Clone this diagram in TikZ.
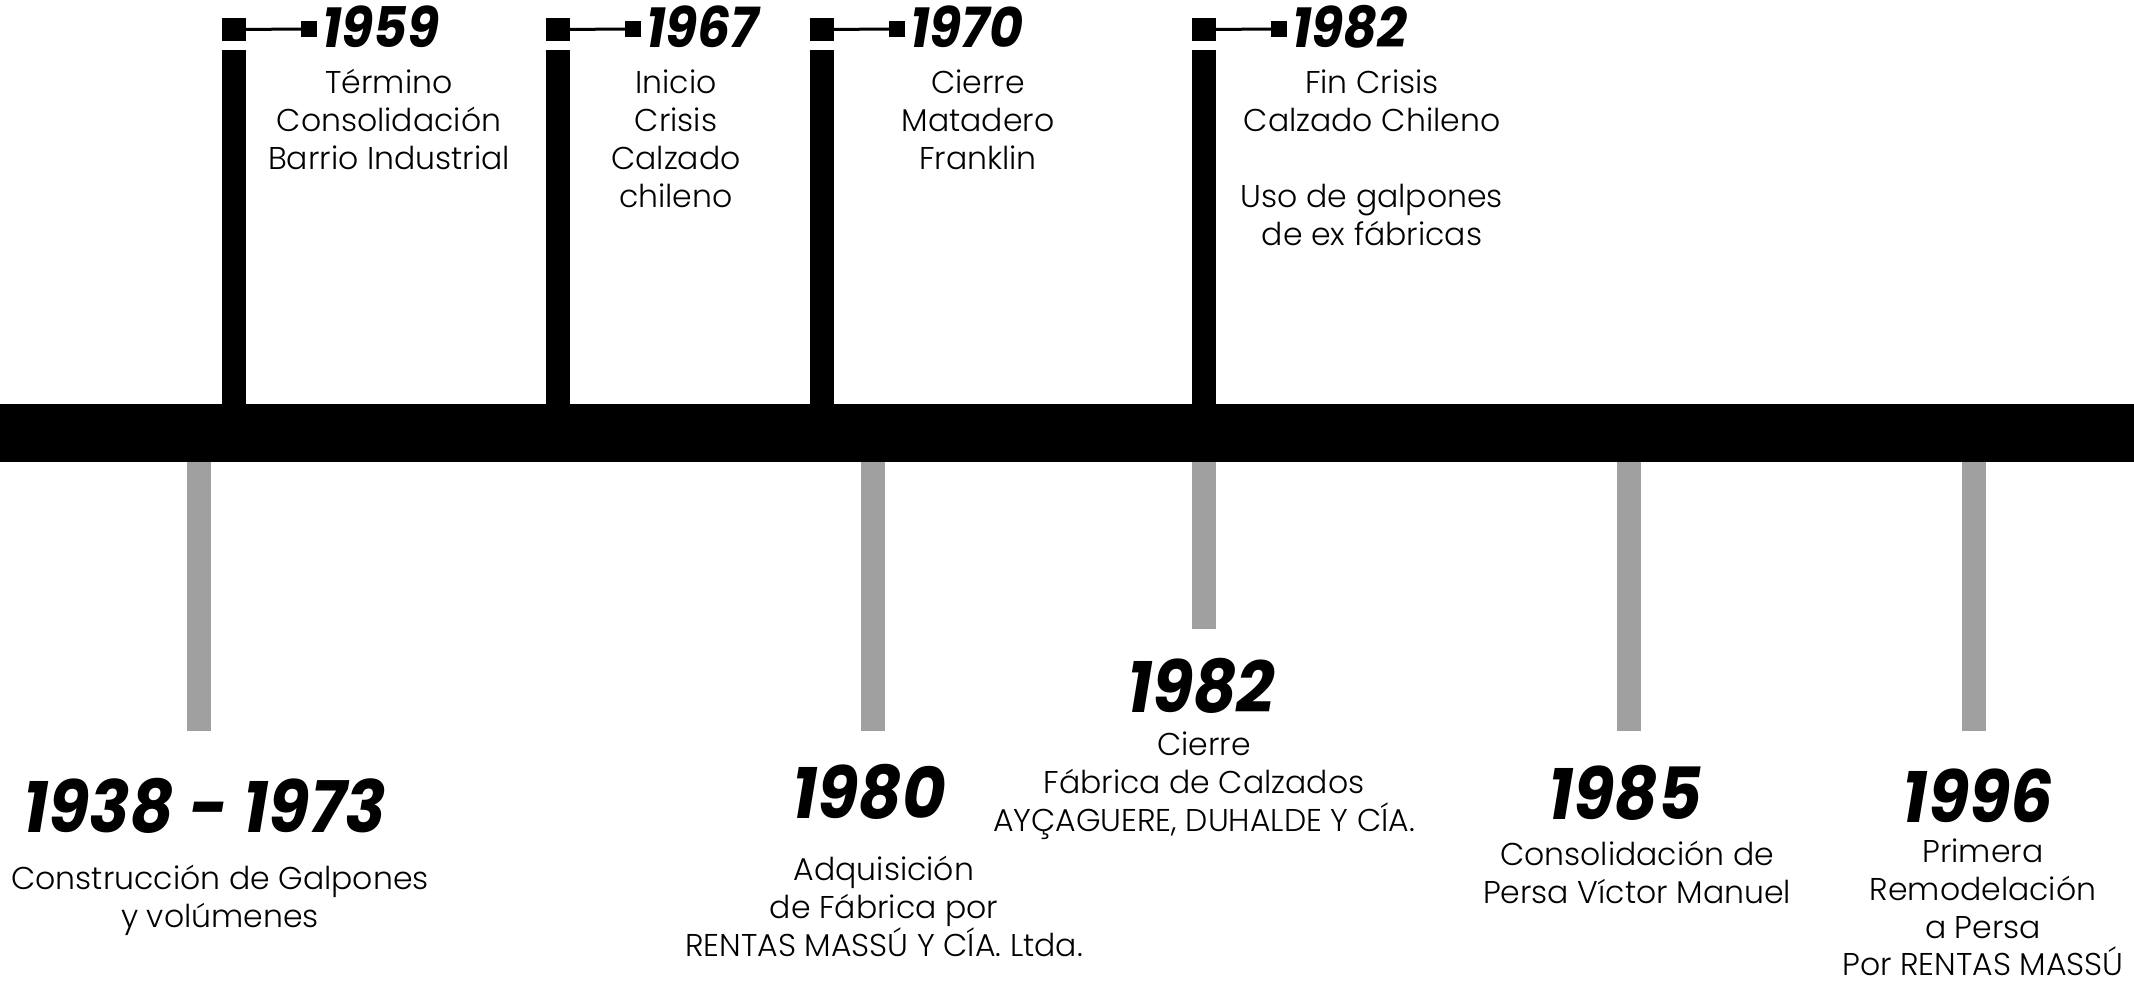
\documentclass[tikz,border=0pt]{standalone}
\usepackage{fontspec}
\setmainfont{Poppins Light}
\newfontfamily\yearfont{Poppins}[FakeStretch=0.93]
\definecolor{stemgray}{HTML}{A0A0A0}
\begin{document}
\begin{tikzpicture}[x=1pt,y=-1pt,
  body/.style={font=\fontsize{31.5}{38}\selectfont, anchor=base, inner sep=0pt},
  topyear/.style={font=\yearfont\bfseries\itshape\fontsize{56}{60}\selectfont, anchor=base west, inner sep=0pt},
  botyear/.style={font=\yearfont\bfseries\itshape\fontsize{72}{80}\selectfont, anchor=base, inner sep=0pt},
  bigsq/.style={rectangle, fill=black, draw=none, inner sep=0pt, minimum width=24pt, minimum height=23pt},
  smallsq/.style={rectangle, fill=black, draw=none, inner sep=0pt, minimum size=16pt},
  flagline/.style={draw=black, line width=3pt},
  blackstem/.style={fill=black},
  graystem/.style={fill=stemgray}]
\useasboundingbox (0,0) rectangle (2134,982);
\fill[white] (0,0) rectangle (2134,982);
% main bar
\fill[black] (0,404) rectangle (2134,462);
% top stems with flags
\foreach \x/\yr/\n in {222/1959/a,546/1967/b,810/1970/c,1192/1982/d}{
  \fill[blackstem] (\x,50) rectangle ({\x+24},404);
  \node[bigsq] (\n big) at ({\x+12},29.5) {};
  \node[smallsq] (\n small) at ({\x+87},29) {};
  \draw[flagline] (\n big) -- (\n small);
  \node[topyear] (\n year) at ({\x+100},48) {\yr};
}
% top descriptions
\foreach \t [count=\i] in {Término,Consolidación,Barrio Industrial}
  \node[body] (a\i) at (389,{93+38*(\i-1)}) {\t};
\foreach \t [count=\i] in {Inicio,Crisis,Calzado,chileno}
  \node[body] (b\i) at (676,{93+38*(\i-1)}) {\t};
\foreach \t [count=\i] in {Cierre,Matadero,Franklin}
  \node[body] (c\i) at (978,{93+38*(\i-1)}) {\t};
\node[body] (d1) at (1372,93) {Fin Crisis};
\node[body] (d2) at (1372,131) {Calzado Chileno};
\node[body] (d3) at (1372,207) {Uso de galpones};
\node[body] (d4) at (1372,245) {de ex fábricas};
% gray stems
\fill[graystem] (187,462) rectangle (211,731);
\fill[graystem] (861,462) rectangle (885,731);
\fill[graystem] (1192,462) rectangle (1216,629);
\fill[graystem] (1617,462) rectangle (1641,731);
\fill[graystem] (1962,462) rectangle (1986,731);
% bottom texts
\node[botyear] (e year) at (205,832) {1938 - 1973};
\node[body] (e1) at (220,889) {Construcción de Galpones};
\node[body] (e2) at (220,927) {y volúmenes};
\node[botyear] (f year) at (869,818) {1980};
\node[body] (f1) at (884,880) {Adquisición};
\node[body] (f2) at (884,918) {de Fábrica por};
\node[body] (f3) at (884,956) {RENTAS MASSÚ Y CÍA. Ltda.};
\node[botyear] (g year) at (1201,712) {1982};
\node[body] (g1) at (1204,755) {Cierre};
\node[body] (g2) at (1204,793) {Fábrica de Calzados};
\node[body] (g3) at (1204,831) {AYÇAGUERE, DUHALDE Y CÍA.};
\node[botyear] (h year) at (1625,819) {1985};
\node[body] (h1) at (1637,865) {Consolidación de};
\node[body] (h2) at (1637,903) {Persa Víctor Manuel};
\node[botyear] (i year) at (1978,822) {1996};
\node[body] (i1) at (1983,862) {Primera};
\node[body] (i2) at (1983,900) {Remodelación};
\node[body] (i3) at (1983,938) {a Persa};
\node[body] (i4) at (1983,975) {Por RENTAS MASSÚ};
\end{tikzpicture}
\end{document}
